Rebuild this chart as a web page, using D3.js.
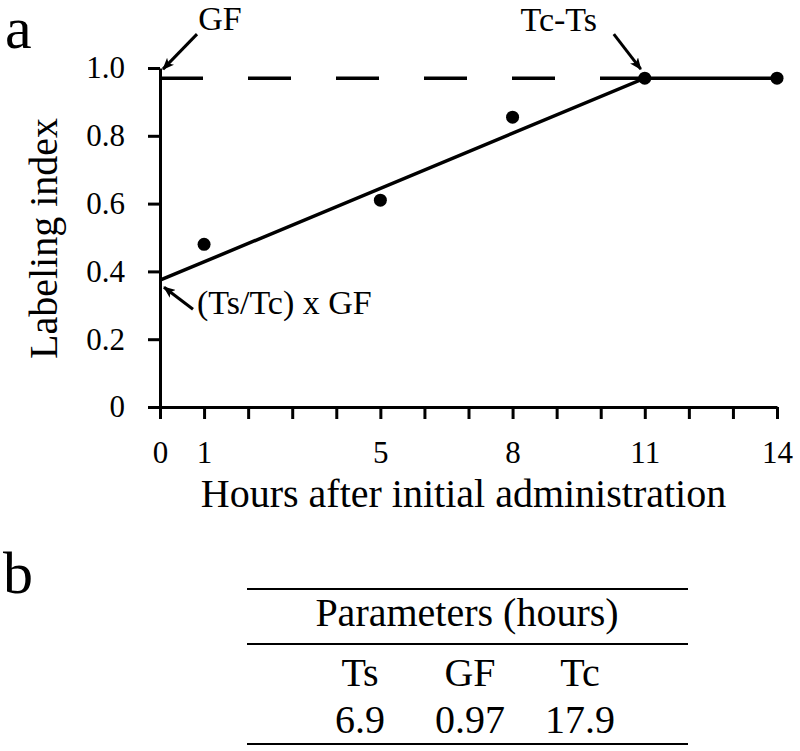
<!DOCTYPE html>
<html>
<head>
<meta charset="utf-8">
<script src="https://cdn.jsdelivr.net/npm/d3@7"></script>
<style>
  body { margin: 0; background: #fff; }
  svg text { font-family: "Liberation Serif", "Times New Roman", serif; fill: #000; }
</style>
</head>
<body>
<div id="chart"></div>
<script>
// data
var hours = [1, 5, 8, 11, 14];
var labelingIndex = [0.48, 0.61, 0.855, 0.97, 0.97];

// fitted model: rise from (Ts/Tc) x GF to GF at Tc-Ts, then flat
var fitHours = [0, 11, 14];
var fitIndex = [0.374, 0.97, 0.97];
var gfLevel = 0.97;

var xTickValues = [0, 1, 2, 3, 4, 5, 6, 7, 8, 9, 10, 11, 12, 13, 14];
var xTickLabels = [0, 1, 5, 8, 11, 14];
var yTickValues = [0, 0.2, 0.4, 0.6, 0.8, 1.0];

// table in panel b
var paramNames = ["Ts", "GF", "Tc"];
var paramValues = ["6.9", "0.97", "17.9"];

var svgWidth = 800;
var svgHeight = 751;

var margin = { top: 68, right: 23, bottom: 344, left: 160 };
var width = svgWidth - margin.left - margin.right;
var height = svgHeight - margin.top - margin.bottom;

var svg = d3.select("#chart")
    .append("svg")
    .attr("width", svgWidth)
    .attr("height", svgHeight);

var defs = svg.append("defs");
defs.append("marker")
    .attr("id", "arrow")
    .attr("viewBox", "0 0 12 10")
    .attr("refX", 11)
    .attr("refY", 5)
    .attr("markerWidth", 12)
    .attr("markerHeight", 10)
    .attr("markerUnits", "userSpaceOnUse")
    .attr("orient", "auto")
    .append("path")
    .attr("d", "M0,0 L12,5 L0,10 L3,5 Z")
    .attr("fill", "#000");

var chartGroup = svg.append("g")
    .attr("transform", `translate(${margin.left}, ${margin.top})`);

var xScale = d3.scaleLinear().domain([0, 14]).range([0, width]);
var yScale = d3.scaleLinear().domain([0, 1]).range([height, 0]);

// axes
var bottomAxis = d3.axisBottom(xScale)
    .tickValues(xTickValues)
    .tickSize(12)
    .tickSizeOuter(0)
    .tickPadding(22)
    .tickFormat(d => xTickLabels.indexOf(d) >= 0 ? d : "");

var leftAxis = d3.axisLeft(yScale)
    .tickValues(yTickValues)
    .tickSize(12)
    .tickSizeOuter(0)
    .tickPadding(23)
    .tickFormat(d => d === 0 ? "0" : d3.format(".1f")(d));

var xAxis = chartGroup.append("g")
    .attr("transform", `translate(0, ${height})`)
    .call(bottomAxis);

var yAxis = chartGroup.append("g")
    .call(leftAxis);

[xAxis, yAxis].forEach(function(ax) {
    ax.select(".domain").attr("stroke", "#000").attr("stroke-width", 3);
    ax.selectAll(".tick line").attr("stroke", "#000").attr("stroke-width", 3);
    ax.selectAll(".tick text")
        .attr("font-size", 31)
        .attr("font-family", "'Liberation Serif', 'Times New Roman', serif")
        .attr("fill", "#000");
});

// dashed GF level up to Tc-Ts
chartGroup.append("line")
    .attr("x1", xScale(0))
    .attr("x2", xScale(fitHours[1]))
    .attr("y1", yScale(gfLevel))
    .attr("y2", yScale(gfLevel))
    .attr("stroke", "#000")
    .attr("stroke-width", 3.5)
    .attr("stroke-dasharray", "43 45");

// fitted line
var fitData = fitHours.map((h, i) => [h, fitIndex[i]]);
chartGroup.append("path")
    .datum(fitData)
    .attr("fill", "none")
    .attr("stroke", "#000")
    .attr("stroke-width", 3.5)
    .attr("d", d3.line().x(d => xScale(d[0])).y(d => yScale(d[1])));

// data points
chartGroup.selectAll("circle")
    .data(hours.map((h, i) => [h, labelingIndex[i]]))
    .enter()
    .append("circle")
    .attr("cx", d => xScale(d[0]))
    .attr("cy", d => yScale(d[1]))
    .attr("r", 6.5)
    .attr("fill", "#000");

// annotations with arrows
function annotate(label, tx, ty, anchor, ax1, ay1, ax2, ay2) {
    chartGroup.append("text")
        .attr("x", tx)
        .attr("y", ty)
        .attr("text-anchor", anchor)
        .attr("font-size", 34)
        .text(label);
    chartGroup.append("line")
        .attr("x1", ax1).attr("y1", ay1)
        .attr("x2", ax2).attr("y2", ay2)
        .attr("stroke", "#000")
        .attr("stroke-width", 3)
        .attr("marker-end", "url(#arrow)");
}

annotate("GF", xScale(0) + 60, yScale(gfLevel) - 48, "middle",
    xScale(0) + 37, yScale(gfLevel) - 44, xScale(0) + 3, yScale(gfLevel) - 9);
annotate("Tc-Ts", xScale(fitHours[1]) - 86, yScale(gfLevel) - 47, "middle",
    xScale(fitHours[1]) - 31, yScale(gfLevel) - 44, xScale(fitHours[1]) - 4, yScale(gfLevel) - 9);
annotate("(Ts/Tc) x GF", xScale(0) + 37, yScale(fitIndex[0]) + 34, "start",
    xScale(0) + 33, yScale(fitIndex[0]) + 29, xScale(0) + 4, yScale(fitIndex[0]) + 7);

// axis titles
chartGroup.append("text")
    .attr("x", width / 2 - 5)
    .attr("y", height + 100)
    .attr("text-anchor", "middle")
    .attr("font-size", 40)
    .text("Hours after initial administration");

chartGroup.append("text")
    .attr("transform", "rotate(-90)")
    .attr("x", -(height / 2) - 1)
    .attr("y", -103)
    .attr("text-anchor", "middle")
    .attr("font-size", 40)
    .text("Labeling index");

// panel letters
svg.append("text").attr("x", 5).attr("y", 48).attr("font-size", 60).text("a");
svg.append("text").attr("x", 3).attr("y", 593).attr("font-size", 60).text("b");

// panel b table
var tableX = d3.scaleBand().domain(paramNames).range([305, 635]);
var tableGroup = svg.append("g");

[589, 644, 744].forEach(function(yy) {
    tableGroup.append("line")
        .attr("x1", 247).attr("x2", 688)
        .attr("y1", yy).attr("y2", yy)
        .attr("stroke", "#000")
        .attr("stroke-width", 2);
});

tableGroup.append("text")
    .attr("x", 467)
    .attr("y", 626)
    .attr("text-anchor", "middle")
    .attr("font-size", 40)
    .text("Parameters (hours)");

tableGroup.selectAll(".pname")
    .data(paramNames)
    .enter()
    .append("text")
    .attr("class", "pname")
    .attr("x", d => tableX(d) + tableX.bandwidth() / 2)
    .attr("y", 686)
    .attr("text-anchor", "middle")
    .attr("font-size", 40)
    .text(d => d);

tableGroup.selectAll(".pval")
    .data(paramValues)
    .enter()
    .append("text")
    .attr("class", "pval")
    .attr("x", (d, i) => tableX(paramNames[i]) + tableX.bandwidth() / 2)
    .attr("y", 733)
    .attr("text-anchor", "middle")
    .attr("font-size", 40)
    .text(d => d);
</script>
</body>
</html>
